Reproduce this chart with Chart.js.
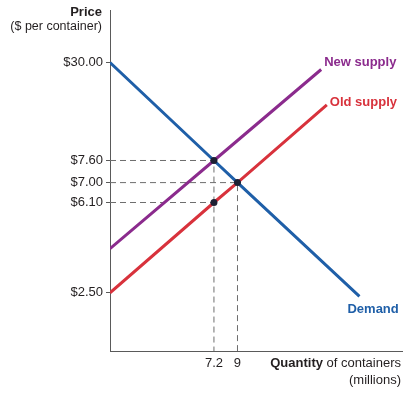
<!DOCTYPE html>
<html>
<head>
<meta charset="utf-8">
<script src="https://cdn.jsdelivr.net/npm/chart.js@4.4.1/dist/chart.umd.min.js"></script>
<style>
  html, body { margin: 0; padding: 0; background: #fff; }
  canvas { display: block; }
</style>
</head>
<body>
<canvas id="chart" width="407" height="393"></canvas>
<script>
// Price ticks on the vertical axis ($ per container)
const priceTicks = [2.5, 6.1, 7.0, 7.6, 30];
// Quantity ticks on the horizontal axis (millions)
const quantityTicks = [7.2, 9];

// Curves, as quantity / price pairs
const demandQty = [0, 7.2, 9, 17.6];
const demandPrice = [30, 7.6, 7.0, 2.35];
const oldSupplyQty = [0, 7.2, 9, 15.3];
const oldSupplyPrice = [2.5, 6.1, 7.0, 20.3];
const newSupplyQty = [0, 7.2, 14.9];
const newSupplyPrice = [4.26, 7.6, 28.4];

// Marked points
const pointQty = [7.2, 9, 7.2];
const pointPrice = [7.6, 7.0, 6.1];

const FONT = '"Liberation Sans", Arial, sans-serif';
const colors = {
  demand: '#1f5fa8',
  newSupply: '#8b2b8d',
  oldSupply: '#d8323c',
  guide: '#6e6e6e',
  dot: '#1d2033',
  axis: '#5a5a5a',
  text: '#231f20'
};

// The diagram is schematic: prices are not evenly spaced, so the axis
// maps values piecewise between stops of [value, fraction of axis]
class PiecewiseScale extends Chart.LinearScale {
  static id = 'piecewise';

  toDecimal(v) {
    const s = this.options.stops;
    for (let i = 1; i < s.length; i++) {
      if (v <= s[i][0] || i === s.length - 1) {
        const [v0, f0] = s[i - 1];
        const [v1, f1] = s[i];
        return f0 + (v - v0) / (v1 - v0) * (f1 - f0);
      }
    }
    return 0;
  }

  fromDecimal(d) {
    const s = this.options.stops;
    for (let i = 1; i < s.length; i++) {
      if (d <= s[i][1] || i === s.length - 1) {
        const [v0, f0] = s[i - 1];
        const [v1, f1] = s[i];
        return v0 + (d - f0) / (f1 - f0) * (v1 - v0);
      }
    }
    return 0;
  }

  getPixelForValue(value) {
    return this.getPixelForDecimal(this.toDecimal(value));
  }

  getValueForPixel(pixel) {
    return this.fromDecimal(this.getDecimalForPixel(pixel));
  }
}
Chart.register(PiecewiseScale);

function toPoints(xs, ys) {
  return xs.map((x, i) => ({ x: x, y: ys[i] }));
}

// Dashed guides from the axes to each marked point
function guideSets() {
  const sets = [];
  pointQty.forEach((q, i) => {
    const p = pointPrice[i];
    const top = Math.max(...pointPrice.filter((_, j) => pointQty[j] === q));
    const pts = [{ x: 0, y: p }, { x: q, y: p }];
    if (p === top) pts.push({ x: q, y: 0 });
    sets.push({
      data: pts,
      borderColor: colors.guide,
      borderWidth: 1,
      borderDash: [6, 4],
      pointRadius: 0,
      fill: false
    });
  });
  return sets;
}

function curve(xs, ys, color, label, offset) {
  return {
    data: toPoints(xs, ys),
    borderColor: color,
    borderWidth: 3,
    pointRadius: 0,
    fill: false,
    endLabel: { text: label, dx: offset[0], dy: offset[1] }
  };
}

const endLabels = {
  id: 'endLabels',
  afterDatasetsDraw(chart) {
    const ctx = chart.ctx;
    chart.data.datasets.forEach((ds, i) => {
      if (!ds.endLabel) return;
      const els = chart.getDatasetMeta(i).data;
      const last = els[els.length - 1];
      ctx.save();
      ctx.font = 'bold 13px ' + FONT;
      ctx.fillStyle = ds.borderColor;
      ctx.textAlign = 'left';
      ctx.textBaseline = 'middle';
      ctx.fillText(ds.endLabel.text, last.x + ds.endLabel.dx, last.y + ds.endLabel.dy);
      ctx.restore();
    });
  }
};

const axisTitles = {
  id: 'axisTitles',
  afterDraw(chart) {
    const ctx = chart.ctx;
    const y = chart.scales.y;
    const x = chart.scales.x;
    ctx.save();
    ctx.fillStyle = colors.text;
    ctx.textBaseline = 'middle';
    ctx.textAlign = 'right';
    ctx.font = 'bold 13px ' + FONT;
    ctx.fillText('Price', y.right - 8, 12);
    ctx.font = '12.5px ' + FONT;
    ctx.fillText('($ per container)', y.right - 8, 27);

    const right = x.right - 1;
    ctx.font = '13px ' + FONT;
    const rest = ' of containers';
    const w = ctx.measureText(rest).width;
    ctx.fillText(rest, right, x.top + 12);
    ctx.font = 'bold 13px ' + FONT;
    ctx.fillText('Quantity', right - w, x.top + 12);
    ctx.font = '13px ' + FONT;
    ctx.fillText('(millions)', right, x.top + 29);
    ctx.restore();
  }
};

const dots = {
  data: toPoints(pointQty, pointPrice),
  showLine: false,
  pointRadius: 3.5,
  pointBackgroundColor: colors.dot,
  pointBorderColor: colors.dot,
  pointBorderWidth: 0
};

new Chart(document.getElementById('chart'), {
  type: 'line',
  data: {
    datasets: [
      dots,
      curve(demandQty, demandPrice, colors.demand, 'Demand', [-12, 13]),
      curve(newSupplyQty, newSupplyPrice, colors.newSupply, 'New supply', [3, -7]),
      curve(oldSupplyQty, oldSupplyPrice, colors.oldSupply, 'Old supply', [3, -3]),
      ...guideSets()
    ]
  },
  options: {
    responsive: false,
    animation: false,
    events: [],
    layout: { padding: { top: 9, right: 5, left: 0, bottom: 0 } },
    plugins: {
      legend: { display: false },
      tooltip: { enabled: false }
    },
    scales: {
      x: {
        type: 'piecewise',
        min: 0,
        max: 20.6,
        stops: [[0, 0], [7.2, 0.356], [9, 0.4366], [20.6, 1]],
        afterBuildTicks: (axis) => { axis.ticks = quantityTicks.map(v => ({ value: v })); },
        afterFit: (axis) => { axis.height = 42; },
        grid: { display: false, drawTicks: false },
        border: { color: colors.axis, width: 1 },
        ticks: {
          padding: 5,
          autoSkip: false,
          maxRotation: 0,
          color: colors.text,
          font: { family: FONT, size: 13 },
          callback: (v) => String(v)
        }
      },
      y: {
        type: 'piecewise',
        min: 0,
        max: 42,
        stops: [[0, 0], [2.5, 0.171], [6.1, 0.4365], [7.0, 0.495], [7.6, 0.56], [30, 0.848], [42, 1]],
        afterBuildTicks: (axis) => { axis.ticks = priceTicks.map(v => ({ value: v })); },
        afterFit: (axis) => { axis.width = 110; },
        grid: { drawOnChartArea: false, drawTicks: true, tickLength: 4, color: colors.axis },
        border: { color: colors.axis, width: 1 },
        ticks: {
          padding: 3,
          autoSkip: false,
          color: colors.text,
          font: { family: FONT, size: 13 },
          callback: (v) => '$' + Number(v).toFixed(2)
        }
      }
    }
  },
  plugins: [endLabels, axisTitles]
});
</script>
</body>
</html>
